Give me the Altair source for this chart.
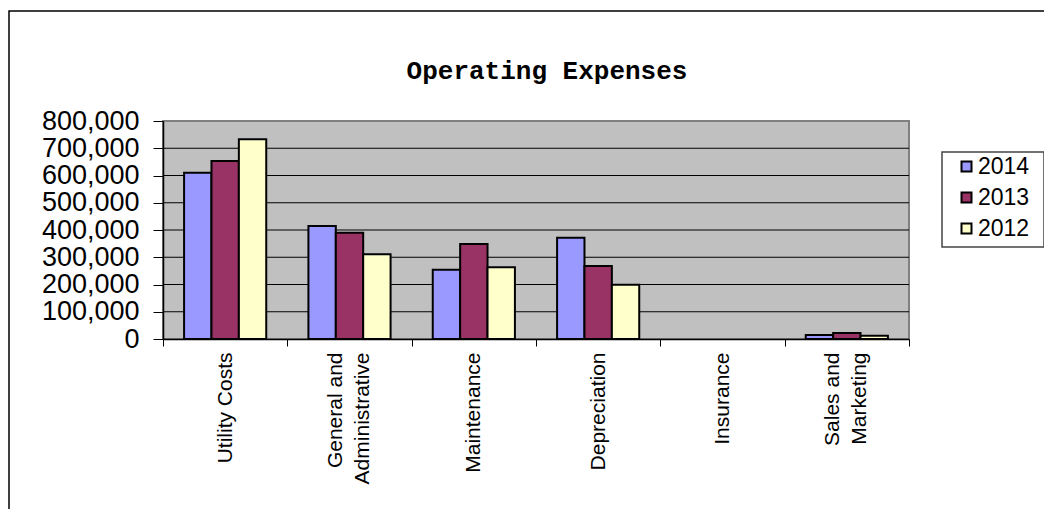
import altair as alt
import pandas as pd

categories = ["Utility Costs", "General and\nAdministrative", "Maintenance",
              "Depreciation", "Insurance", "Sales and\nMarketing"]
years = ["2014", "2013", "2012"]
values_2014 = [610000, 415000, 254000, 372000, 0, 15000]
values_2013 = [653000, 390000, 349000, 268000, 0, 22000]
values_2012 = [733000, 311000, 263000, 199000, 0, 12000]
colors = ["#9999FF", "#993366", "#FFFFCC"]
y_ticks = [0, 100000, 200000, 300000, 400000, 500000, 600000, 700000, 800000]
grid_values = [100000, 200000, 300000, 400000, 500000, 600000, 700000]
title_text = ["Operating Expenses"]

rows = []
for yr, vals in zip(years, [values_2014, values_2013, values_2012]):
    for c, v in zip(categories, vals):
        rows.append({"Category": c, "Year": yr, "Value": v})
df = pd.DataFrame(rows)

W, H = 746, 218
PAD_L, PAD_T, PAD_R, PAD_B = 155, 113, 135, 170

y_scale = alt.Scale(domain=[0, 800000])
x_scale = alt.Scale(domain=categories, paddingInner=0, paddingOuter=0)


def y_axis():
    return alt.Axis(values=y_ticks, format=",d", title=None,
                    labelFont="Liberation Sans", labelFontSize=27,
                    labelColor="#000", tickSize=10, tickColor="#000",
                    labelPadding=14, grid=False, domainColor="#000",
                    domainWidth=1.5, labelOverlap=False, labelBound=False)


label_common = dict(title=None, orient="bottom", labelAngle=270, labelAlign="right",
                    labelBaseline="middle", labelFont="Liberation Sans",
                    labelFontSize=21, labelColor="#000", labelLineHeight=27,
                    labelPadding=6, tickBand="extent", tickSize=7,
                    grid=False, labelLimit=300, labelOverlap=False, labelBound=False)

grid = alt.Chart(pd.DataFrame({"Value": grid_values})).mark_rule(
    color="black", strokeWidth=1
).encode(y=alt.Y("Value:Q", scale=y_scale, axis=y_axis()))

bars = alt.Chart(df).mark_bar(stroke="black", strokeWidth=2).encode(
    x=alt.X("Category:N", scale=x_scale,
            axis=alt.Axis(labelExpr="length(split(datum.label, '\\n')) > 1 ? '' : datum.label",
                          tickColor="#000", domainColor="#000", domainWidth=1.5,
                          **label_common)),
    xOffset=alt.XOffset("Year:N", sort=years,
                        scale=alt.Scale(paddingInner=0, paddingOuter=0.77)),
    y=alt.Y("Value:Q", scale=y_scale, axis=y_axis()),
    color=alt.Color("Year:N", sort=years,
                    scale=alt.Scale(domain=years, range=colors),
                    legend=alt.Legend(title=None, orient="none",
                                      legendX=792, legendY=34, padding=0,
                                      symbolType="square", symbolSize=100,
                                      symbolStrokeColor="black",
                                      symbolStrokeWidth=2,
                                      labelFont="Liberation Sans",
                                      labelFontSize=23, labelColor="#000",
                                      labelOffset=0, rowPadding=7)),
).transform_filter("datum.Value > 0")

ghost = alt.Chart(df).mark_bar(opacity=0).encode(
    x=alt.X("Category:N", scale=x_scale,
            axis=alt.Axis(labelExpr="length(split(datum.label, '\\n')) > 1 ? split(datum.label, '\\n') : ''",
                          labelOffset=-14, tickColor="transparent", domain=False,
                          **label_common)),
)

legend_box = alt.Chart(pd.DataFrame({"a": [0]})).mark_rect(
    fillOpacity=0, stroke="#444444", strokeWidth=1.5
).encode(x=alt.value(779), x2=alt.value(881), y=alt.value(31), y2=alt.value(126))

outer_box = alt.Chart(pd.DataFrame({"a": [0]})).mark_rect(
    fillOpacity=0, stroke="black", strokeWidth=1.5
).encode(x=alt.value(-154), x2=alt.value(W + 300), y=alt.value(-110), y2=alt.value(H + 400))

title = alt.Chart(pd.DataFrame({"t": title_text})).mark_text(
    font="Liberation Mono", fontSize=26, fontWeight="bold",
    align="center", baseline="middle", color="black"
).encode(x=alt.value(384), y=alt.value(-50), text="t:N")

chart = alt.layer(grid, ghost, bars, legend_box, outer_box, title).resolve_axis(
    x="independent"
).properties(
    width=W, height=H,
    padding={"left": PAD_L, "top": PAD_T, "right": PAD_R, "bottom": PAD_B},
    autosize=alt.AutoSizeParams(type="none"),
    background="white",
).configure_view(fill="#C0C0C0", stroke="#808080", strokeWidth=2)

chart.save("out.html", embed_options={"renderer": "svg", "actions": False})
